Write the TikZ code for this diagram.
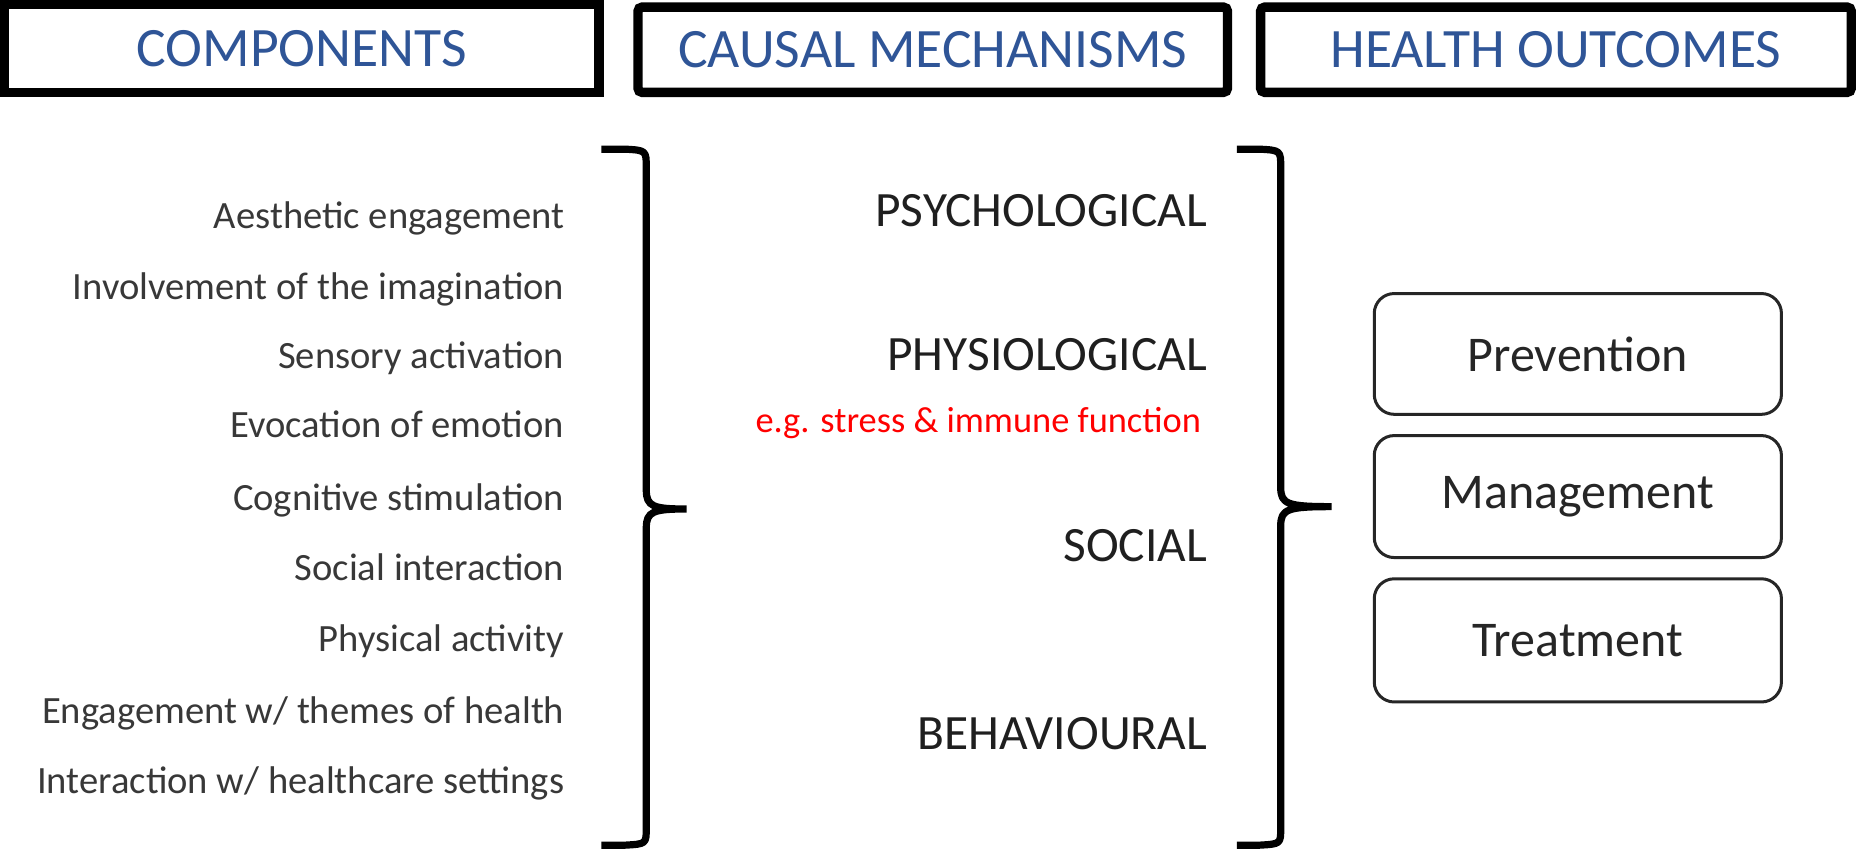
\documentclass[tikz,border=0pt]{standalone}
\usepackage{fontspec}
\setmainfont{Carlito}
\begin{document}
\begin{tikzpicture}[x=0.59185pt,y=-0.59185pt,
  head/.style={draw=black,line width=4.7pt,inner sep=0pt,text=headblue,
    font=\fontsize{27.8}{31}\selectfont},
  outcome/.style={draw=black!85,line width=1.5pt,rounded corners=10pt,inner sep=0pt,
    minimum width=203.6pt,text=black!85,font=\fontsize{25}{29}\selectfont},
  comp/.style={anchor=base east,inner sep=0pt,text=black!78,font=\fontsize{19.3}{22}\selectfont},
  mech/.style={anchor=base east,inner sep=0pt,text=black!88,font=\fontsize{24.7}{28}\selectfont},
  note/.style={anchor=base east,inner sep=0pt,text=red,font=\fontsize{18.2}{21}\selectfont},
  brace/.style={draw=black,line width=3.6pt,line cap=butt,line join=round}]
\definecolor{headblue}{RGB}{47,85,151}
\useasboundingbox (0,0) rectangle (1568,718);

% column headers
\node[head,minimum width=297.1pt,minimum height=43.8pt] (hcomp) at (255,41) {COMPONENTS};
\node[head,rounded corners=2pt,minimum width=294.7pt,minimum height=42.6pt] (hmech) at (788,42) {CAUSAL MECHANISMS};
\node[head,rounded corners=2pt,minimum width=295.3pt,minimum height=42.6pt] (hout) at (1314.5,42) {HEALTH OUTCOMES};

% components of arts activities
\node[comp] (c1) at (477,193) {Aesthetic engagement};
\node[comp] (c2) at (477,253) {Involvement of the imagination};
\node[comp] (c3) at (477,311) {Sensory activation};
\node[comp] (c4) at (477,370) {Evocation of emotion};
\node[comp] (c5) at (477,431) {Cognitive stimulation};
\node[comp] (c6) at (477,490) {Social interaction};
\node[comp] (c7) at (477,550) {Physical activity};
\node[comp] (c8) at (477,611) {Engagement w/ themes of health};
\node[comp] (c9) at (477,670) {Interaction w/ healthcare settings};

% causal mechanisms
\node[mech] (m1) at (1020,191) {PSYCHOLOGICAL};
\node[mech] (m2) at (1020,313) {PHYSIOLOGICAL};
\node[note] (m2n) at (1015,365) {e.g. stress \& immune function};
\node[mech] (m3) at (1020,474) {SOCIAL};
\node[mech] (m4) at (1020,633) {BEHAVIOURAL};

% health outcomes
\node[outcome,minimum height=60.4pt] (o1) at (1333,299) {Prevention};
\node[outcome,minimum height=61pt] (o2) at (1333,419.5) {Management};
\node[outcome,minimum height=61.6pt] (o3) at (1333,541) {Treatment};

% braces grouping each column
\draw[brace] (508,126) -- (528,126) .. controls (546,127) .. (546,142)
  -- (546,414) .. controls (546,428) and (552,430) .. (580,430)
  (580,430) .. controls (552,430) and (546,432) .. (546,446)
  -- (546,699) .. controls (546,713) .. (528,714) -- (508,714);
\draw[brace] (1045,126) -- (1064,126) .. controls (1082,127) .. (1082,142)
  -- (1082,412) .. controls (1082,426) and (1088,428) .. (1125,428)
  (1125,428) .. controls (1088,428) and (1082,430) .. (1082,444)
  -- (1082,699) .. controls (1082,713) .. (1064,714) -- (1045,714);
\end{tikzpicture}
\end{document}
